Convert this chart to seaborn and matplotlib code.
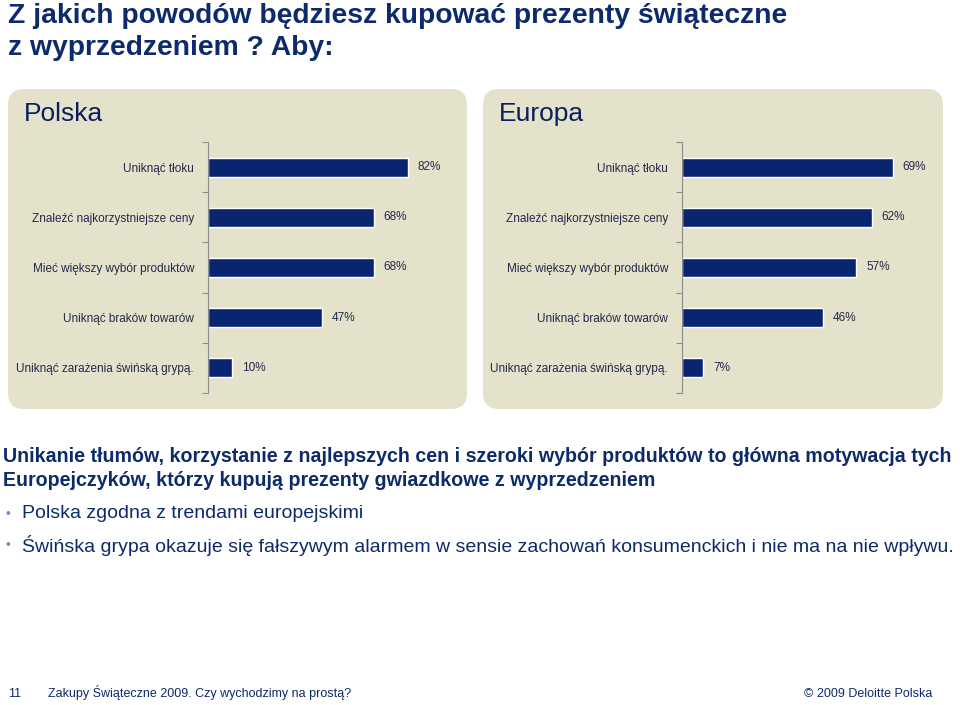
"""
Wykres słupkowy: powody kupowania prezentów z wyprzedzeniem (Polska vs Europa)
"""
import matplotlib
matplotlib.use('Agg')
import matplotlib.pyplot as plt
from matplotlib.patches import FancyBboxPatch
import seaborn as sns

# ==================== dane ====================
categories = ['Uniknąć tłoku', 'Znaleźć najkorzystniejsze ceny', 'Mieć większy wybór produktów',
              'Uniknąć braków towarów', 'Uniknąć zarażenia świńską grypą.']
polska_values = [82, 68, 68, 47, 10]
europa_values = [69, 62, 57, 46, 7]
panel_titles = ['Polska', 'Europa']

title_lines = ['Z jakich powodów będziesz kupować prezenty świąteczne', 'z wyprzedzeniem ? Aby:']
summary_lines = ['Unikanie tłumów, korzystanie z najlepszych cen i szeroki wybór produktów to główna motywacja tych',
                 'Europejczyków, którzy kupują prezenty gwiazdkowe z wyprzedzeniem']
bullets = ['Polska zgodna z trendami europejskimi',
           'Świńska grypa okazuje się fałszywym alarmem w sensie zachowań konsumenckich i nie ma na nie wpływu.']
footer_left = 'Zakupy Świąteczne 2009. Czy wychodzimy na prostą?'
footer_num = '11'
footer_right = '© 2009 Deloitte Polska'

# ==================== styl ====================
sns.set_style('white')
plt.rcParams['font.family'] = ['Liberation Sans', 'DejaVu Sans']

W, H = 960, 705
BAR = '#0A2570'
PANEL = '#E4E2CB'
NAVY = '#0D2A6B'
LABEL = '#24284A'

fig = plt.figure(figsize=(W / 100, H / 100), dpi=100)
fig.patch.set_facecolor('white')

# tło w pikselach
bg = fig.add_axes([0, 0, 1, 1], zorder=-1)
bg.set_xlim(0, W)
bg.set_ylim(H, 0)
bg.axis('off')

panels = [(8, 89, 459, 320), (483, 89, 460, 320)]
for (px, py, pw, ph), name in zip(panels, panel_titles):
    bg.add_patch(FancyBboxPatch((px, py), pw, ph, boxstyle='round,pad=0,rounding_size=16',
                                facecolor=PANEL, edgecolor='none'))
    bg.text(px + 16, py + 25, name, fontsize=19, color='#0B1F5C', va='center', ha='left')

for i, line in enumerate(title_lines):
    bg.text(8, 16 + i * 32, line, fontsize=20.3, fontweight='bold', color=NAVY,
            va='center', ha='left')
for i, line in enumerate(summary_lines):
    bg.text(3, 457 + i * 23, line, fontsize=14.1, fontweight='bold', color=NAVY,
            va='center', ha='left')
for i, b in enumerate(bullets):
    y = 514 + i * 31
    bg.text(5, y, '•', fontsize=10, color='#8A80C0', va='center', ha='left')
    bg.text(22, y, b, fontsize=14, color=NAVY, va='center', ha='left')

bg.text(8, 697, footer_num, fontsize=9, color=NAVY, va='baseline', ha='left')
bg.text(48, 697, footer_left, fontsize=9, color=NAVY, va='baseline', ha='left')
bg.text(932, 697, footer_right, fontsize=9, color=NAVY, va='baseline', ha='right')

# wykresy słupkowe
axes_px = [(208, 467, 2.435), (682, 943, 3.06)]  # lewa krawędź, prawa krawędź, px na %
top, bottom = 142, 393
for (x0, x1, scale), values in zip(axes_px, [polska_values, europa_values]):
    ax = fig.add_axes([x0 / W, 1 - bottom / H, (x1 - x0) / W, (bottom - top) / H])
    ax.set_facecolor('none')
    sns.barplot(x=values, y=categories, orient='h', color=BAR, width=0.38,
                edgecolor='white', linewidth=1, saturation=1, ax=ax)
    ax.set_xlim(0, (x1 - x0) / scale)
    ax.set_ylim(4.5, -0.5)
    ax.bar_label(ax.containers[0], labels=[f'{v}%' for v in values], padding=7,
                 fontsize=8.5, color=LABEL)
    ax.set_xticks([])
    ax.set_xlabel('')
    ax.set_ylabel('')
    ax.set_yticks(range(len(categories)))
    ax.set_yticklabels(categories, fontsize=8.5, color=LABEL)
    ax.tick_params(axis='y', which='major', length=0, pad=10)
    ax.set_yticks([i - 0.5 for i in range(len(categories) + 1)], minor=True)
    ax.tick_params(axis='y', which='minor', length=4, width=0.8, color='#8C8C8C', left=True)
    for s in ['top', 'right', 'bottom']:
        ax.spines[s].set_visible(False)
    ax.spines['left'].set_color('#8C8C8C')
    ax.spines['left'].set_linewidth(0.8)

fig.savefig('out.png', dpi=100)
